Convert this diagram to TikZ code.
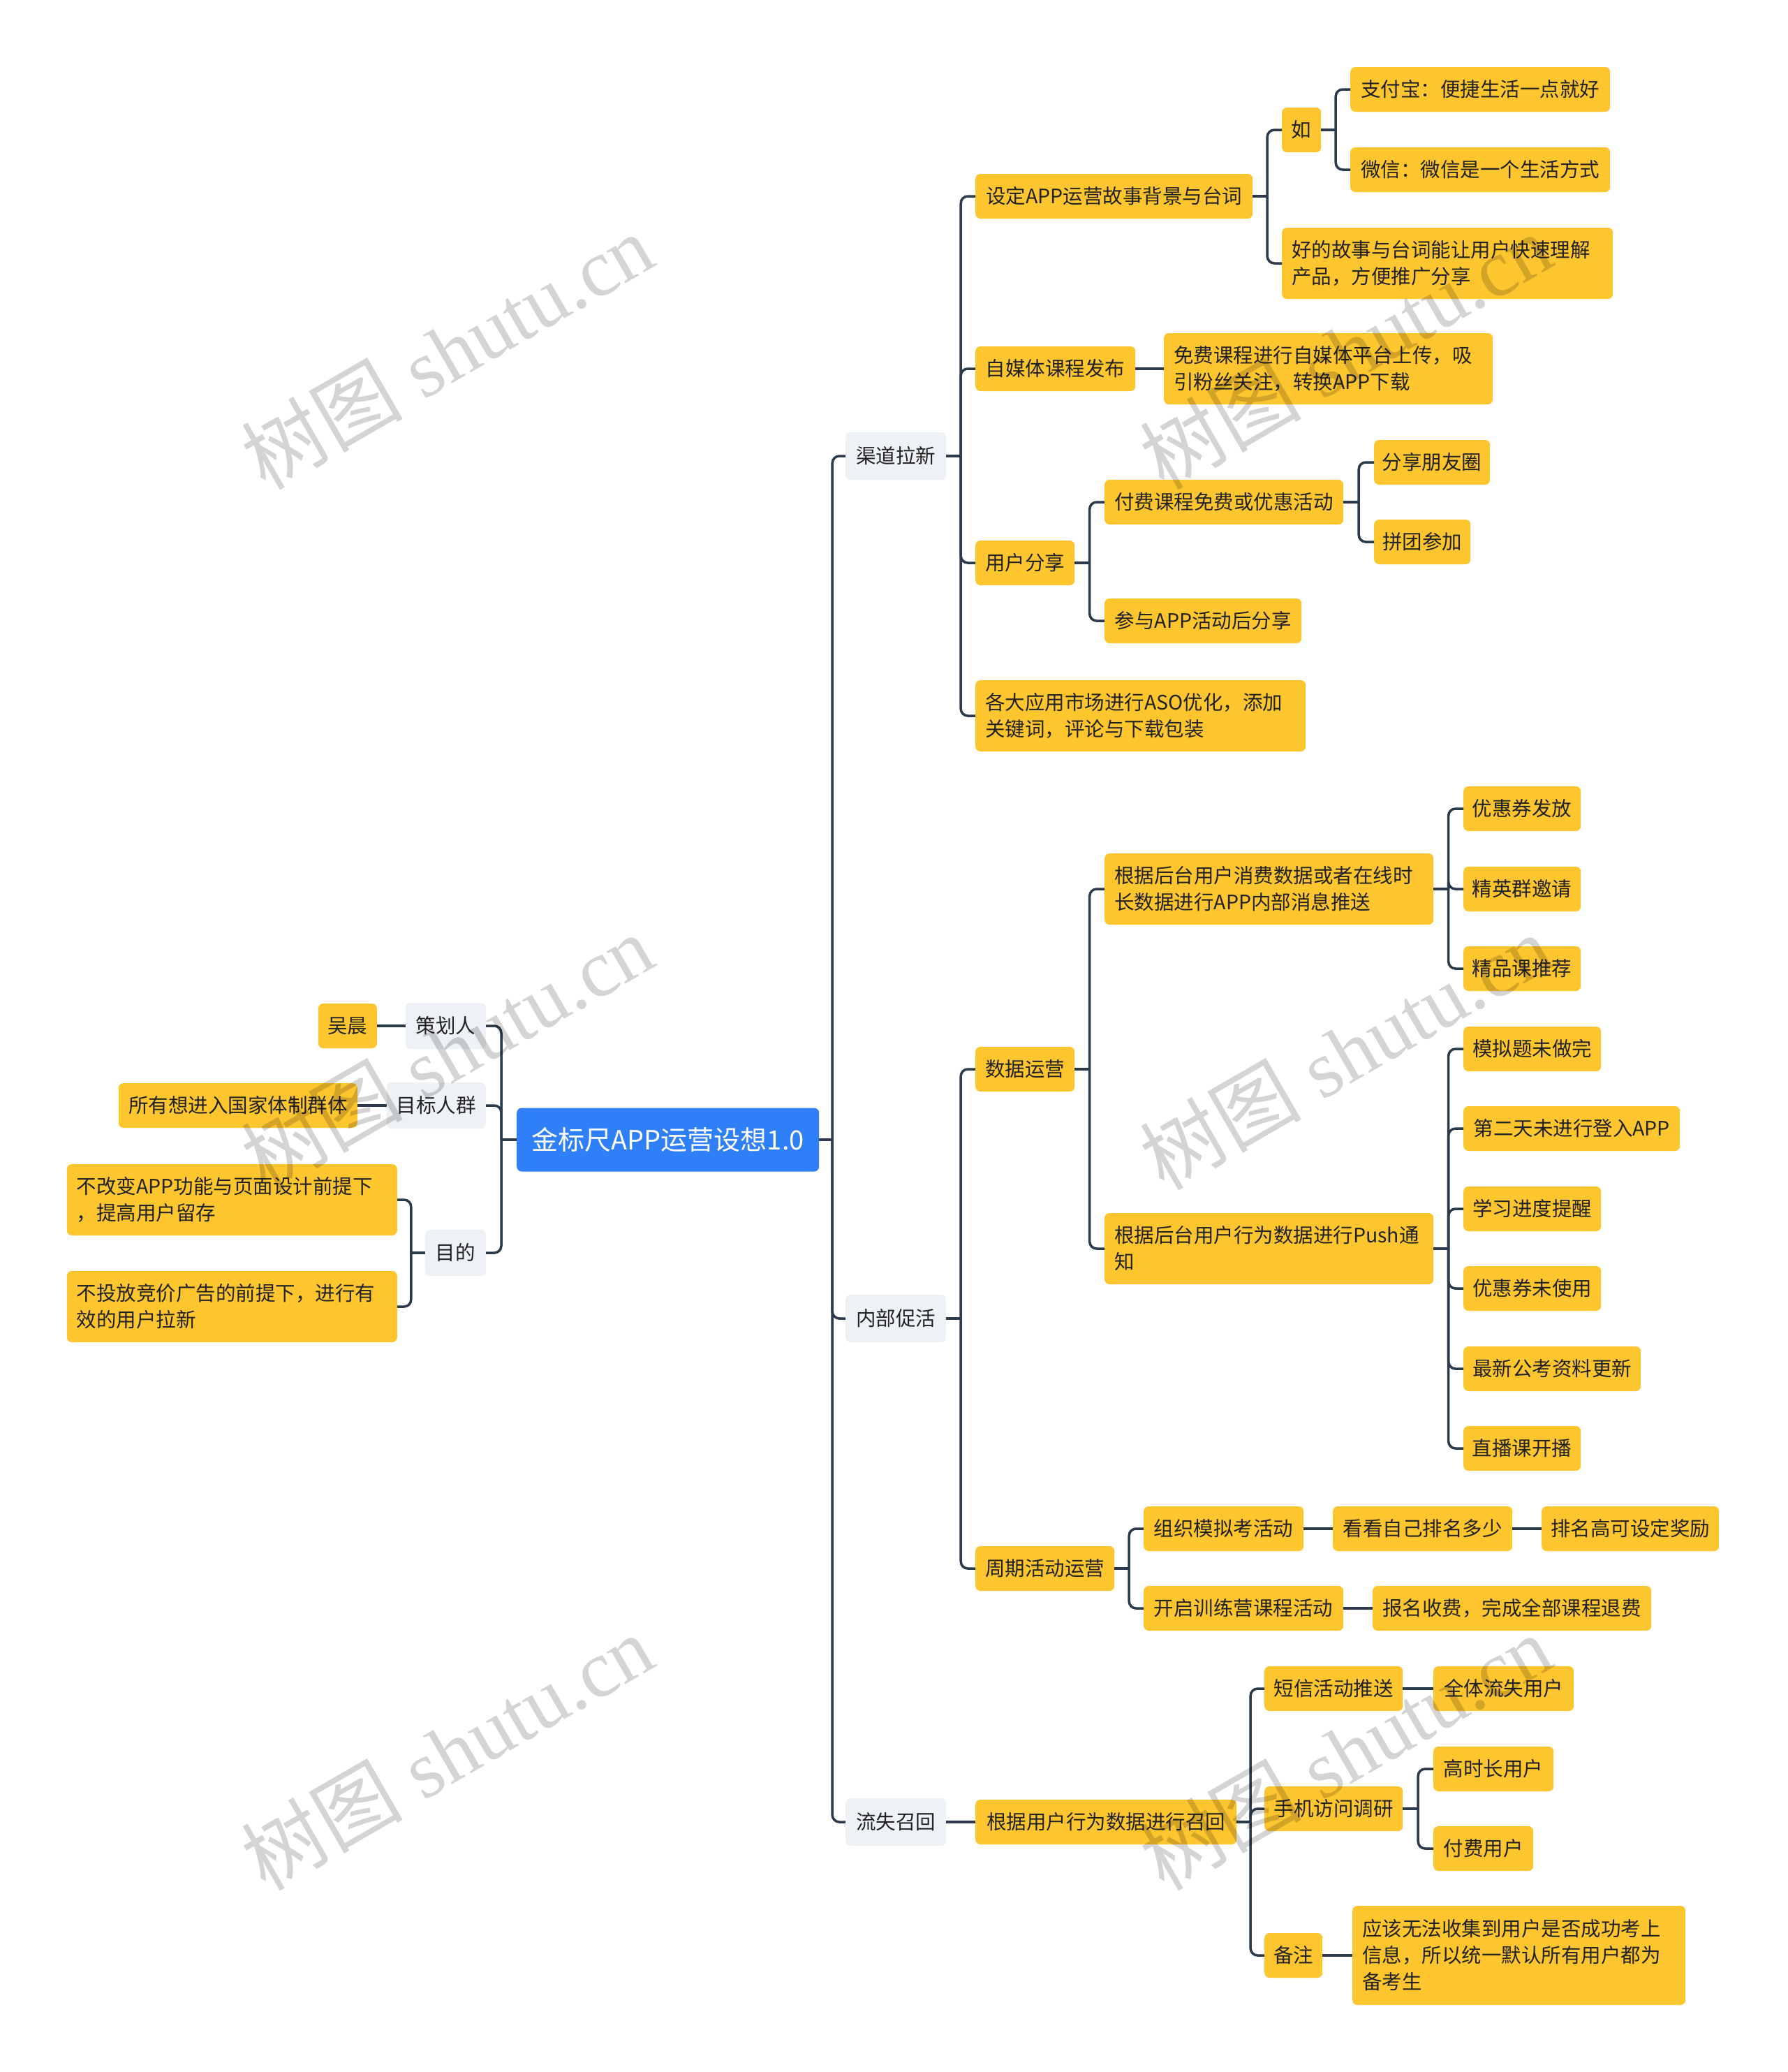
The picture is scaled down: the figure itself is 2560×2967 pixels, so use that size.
\documentclass[tikz,border=0pt]{standalone}
\usepackage{fontspec}
\setmainfont{Noto Sans CJK SC}
\newfontfamily\wmfont{Liberation Serif}
\newfontfamily\wmcjk{Noto Sans CJK SC}
\usetikzlibrary{calc}
\definecolor{ylw}{HTML}{FDC52E}
\definecolor{gry}{HTML}{EEF1F5}
\definecolor{blu}{HTML}{2F80F8}
\definecolor{lnk}{HTML}{2C3A4E}
\definecolor{txt}{HTML}{222222}
\newcommand\rbranch[3]{%
  \coordinate (#1b) at ($(#1.east)!.5!(#2.west |- #1.east)$);
  \draw[conn] (#1.east) -- (#1b);
  \foreach \cc in {#3} {\draw[conn] (#1b) |- (\cc.west);}
}
\newcommand\lbranch[3]{%
  \coordinate (#1b) at ($(#1.west)!.5!(#2.east |- #1.west)$);
  \draw[conn] (#1.west) -- (#1b);
  \foreach \cc in {#3} {\draw[conn] (#1b) |- (\cc.east);}
}
\begin{document}
\begin{tikzpicture}[x=1pt,y=-1pt,
  base/.style={rounded corners=7pt, inner xsep=10pt, inner ysep=0pt, text=txt,
    font=\fontsize{28.5}{38}\selectfont, minimum height=64pt},
  leaf/.style={base, fill=ylw, anchor=west},
  topic/.style={base, fill=gry, minimum height=68pt, anchor=west},
  rootbox/.style={base, fill=blu, text=white, anchor=west, minimum height=91pt,
    font=\fontsize{38}{44}\selectfont},
  mw/.style={minimum width=#1},
  two/.style={text width=#1, align=left, inner xsep=14pt, minimum height=102pt},
  three/.style={text width=#1, align=left, inner xsep=14pt, minimum height=142pt},
  conn/.style={draw=lnk, line width=3.5pt, rounded corners=10pt},
  wm/.style={rotate=30, text=black, text opacity=0.17,
    font=\wmfont\fontsize{116}{116}\selectfont}
]
\fill[white] (0,0) rectangle (2560,2967);
\useasboundingbox (0,0) rectangle (2560,2967);

% root
\node[rootbox, mw=433pt] (r) at (740,1632) {金标尺APP运营设想1.0};

% level 1 right
\node[topic, mw=144pt] (k1) at (1211,653) {渠道拉新};
\node[topic, mw=144pt] (k2) at (1211,1888) {内部促活};
\node[topic, mw=144pt] (k3) at (1211,2609) {流失召回};

% level 1 left
\node[topic, anchor=east, mw=115pt, minimum height=66pt] (l1) at (696,1469) {策划人};
\node[topic, anchor=east, mw=142pt, minimum height=66pt] (l2) at (696,1583) {目标人群};
\node[topic, anchor=east, mw=87pt, minimum height=66pt] (l3) at (696,1794) {目的};

\node[leaf, anchor=east, mw=84pt] (l11) at (540,1469) {吴晨};
\node[leaf, anchor=east, mw=342pt] (l21) at (512,1583) {所有想进入国家体制群体};
\node[leaf, anchor=east, two=445pt] (l31) at (569,1718) {不改变APP功能与页面设计前提下\\，提高用户留存};
\node[leaf, anchor=east, two=445pt] (l32) at (569,1871) {不投放竞价广告的前提下，进行有\\效的用户拉新};

% 渠道拉新
\node[leaf, mw=397pt] (a1) at (1397,281) {设定APP运营故事背景与台词};
\node[leaf, mw=229pt] (a2) at (1397,528) {自媒体课程发布};
\node[leaf, mw=142pt] (a3) at (1397,806) {用户分享};
\node[leaf, two=445pt] (a4) at (1397,1025) {各大应用市场进行ASO优化，添加\\关键词，评论与下载包装};

\node[leaf, mw=56pt] (a11) at (1836,186) {如};
\node[leaf, two=446pt] (a12) at (1836,377) {好的故事与台词能让用户快速理解\\产品，方便推广分享};
\node[leaf, mw=372pt] (a111) at (1934,128) {支付宝：便捷生活一点就好};
\node[leaf, mw=372pt] (a112) at (1934,243) {微信：微信是一个生活方式};

\node[leaf, two=443pt] (a21) at (1667,528) {免费课程进行自媒体平台上传，吸\\引粉丝关注，转换APP下载};

\node[leaf, mw=342pt] (a31) at (1582,719) {付费课程免费或优惠活动};
\node[leaf, mw=282pt] (a32) at (1582,889) {参与APP活动后分享};
\node[leaf, mw=166pt] (a311) at (1968,662) {分享朋友圈};
\node[leaf, mw=138pt] (a312) at (1968,776) {拼团参加};

% 内部促活
\node[leaf, mw=142pt] (b1) at (1397,1531) {数据运营};
\node[leaf, mw=199pt] (b2) at (1397,2246) {周期活动运营};
\node[leaf, two=443pt] (b11) at (1582,1273) {根据后台用户消费数据或者在线时\\长数据进行APP内部消息推送};
\node[leaf, two=443pt] (b12) at (1582,1788) {根据后台用户行为数据进行Push通\\知};
\node[leaf, mw=168pt] (b111) at (2096,1158) {优惠券发放};
\node[leaf, mw=168pt] (b112) at (2096,1273) {精英群邀请};
\node[leaf, mw=168pt] (b113) at (2096,1387) {精品课推荐};
\node[leaf, mw=197pt] (b121) at (2096,1502) {模拟题未做完};
\node[leaf, mw=310pt] (b122) at (2096,1616) {第二天未进行登入APP};
\node[leaf, mw=197pt] (b123) at (2096,1731) {学习进度提醒};
\node[leaf, mw=197pt] (b124) at (2096,1845) {优惠券未使用};
\node[leaf, mw=254pt] (b125) at (2096,1960) {最新公考资料更新};
\node[leaf, mw=168pt] (b126) at (2096,2074) {直播课开播};
\node[leaf, mw=229pt] (b21) at (1638,2189) {组织模拟考活动};
\node[leaf, mw=286pt] (b22) at (1638,2303) {开启训练营课程活动};
\node[leaf, mw=257pt] (b211) at (1909,2189) {看看自己排名多少};
\node[leaf, mw=254pt] (b2111) at (2208,2189) {排名高可设定奖励};
\node[leaf, mw=399pt] (b221) at (1966,2303) {报名收费，完成全部课程退费};

% 流失召回
\node[leaf, mw=374pt] (c1) at (1397,2609) {根据用户行为数据进行召回};
\node[leaf, mw=198pt] (c11) at (1811,2418) {短信活动推送};
\node[leaf, mw=198pt] (c12) at (1811,2590) {手机访问调研};
\node[leaf, mw=83pt] (c13) at (1811,2800) {备注};
\node[leaf, mw=201pt] (c111) at (2053,2418) {全体流失用户};
\node[leaf, mw=172pt] (c121) at (2053,2533) {高时长用户};
\node[leaf, mw=143pt] (c122) at (2053,2647) {付费用户};
\node[leaf, three=449pt] (c131) at (1937,2800) {应该无法收集到用户是否成功考上\\信息，所以统一默认所有用户都为\\备考生};

% connectors
\rbranch{r}{k1}{k1,k2,k3}
\lbranch{r}{l1}{l1,l2,l3}
\draw[conn] (l1.west) -- (l11.east);
\draw[conn] (l2.west) -- (l21.east);
\lbranch{l3}{l31}{l31,l32}

\rbranch{k1}{a1}{a1,a2,a3,a4}
\rbranch{a1}{a11}{a11,a12}
\rbranch{a11}{a111}{a111,a112}
\draw[conn] (a2.east) -- (a21.west);
\rbranch{a3}{a31}{a31,a32}
\rbranch{a31}{a311}{a311,a312}

\rbranch{k2}{b1}{b1,b2}
\rbranch{b1}{b11}{b11,b12}
\rbranch{b11}{b111}{b111,b112,b113}
\rbranch{b12}{b121}{b121,b122,b123,b124,b125,b126}
\rbranch{b2}{b21}{b21,b22}
\draw[conn] (b21.east) -- (b211.west);
\draw[conn] (b211.east) -- (b2111.west);
\draw[conn] (b22.east) -- (b221.west);

\draw[conn] (k3.east) -- (c1.west);
\rbranch{c1}{c11}{c11,c12,c13}
\draw[conn] (c11.east) -- (c111.west);
\rbranch{c12}{c121}{c121,c122}
\draw[conn] (c13.east) -- (c131.west);

% watermark
\node[wm] (w1) at (640,503) {{\wmcjk 树图} shutu.cn};
\node[wm] (w2) at (1927,503) {{\wmcjk 树图} shutu.cn};
\node[wm] (w3) at (640,1506) {{\wmcjk 树图} shutu.cn};
\node[wm] (w4) at (1927,1506) {{\wmcjk 树图} shutu.cn};
\node[wm] (w5) at (640,2509) {{\wmcjk 树图} shutu.cn};
\node[wm] (w6) at (1927,2509) {{\wmcjk 树图} shutu.cn};
\end{tikzpicture}
\end{document}
